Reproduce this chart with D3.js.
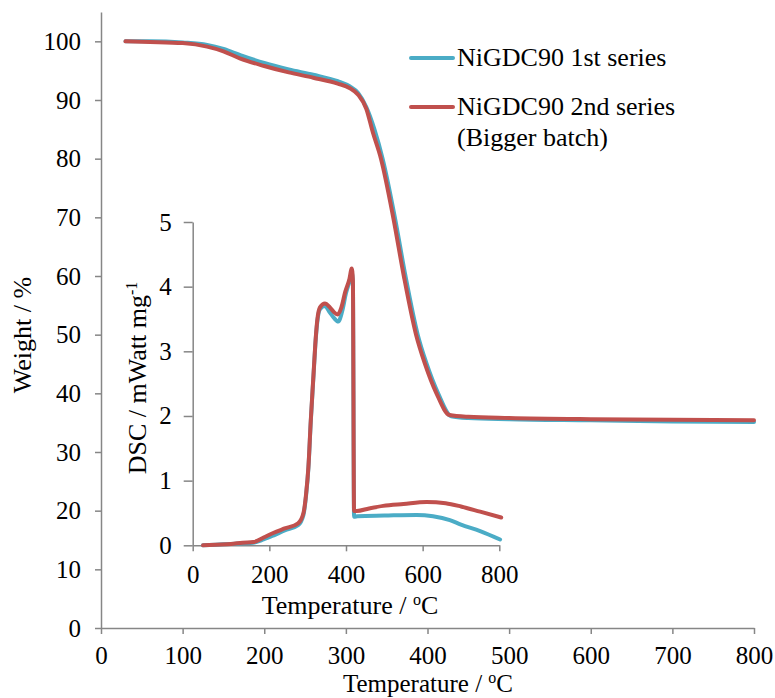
<!DOCTYPE html>
<html>
<head>
<meta charset="utf-8">
<script src="https://cdn.jsdelivr.net/npm/d3@7"></script>
<style>
  body { margin: 0; background: #fff; }
  svg text { font-family: "Liberation Serif", "Times New Roman", Times, "DejaVu Serif", serif; fill: #000; }
</style>
</head>
<body>
<div id="chart"></div>
<script>
/* TGA (main) + DSC (inset) for two NiGDC90 batches */

const serifFont = '"Liberation Serif", "Times New Roman", Times, "DejaVu Serif", serif';

const seriesNames = ['NiGDC90 1st series', 'NiGDC90 2nd series'];
const seriesColors = ['#4bacc6', '#c0504d'];

// TGA weight curves
const tgaTempBlue = [30, 60, 100, 130, 150, 170, 200, 230, 260, 290, 305, 315, 325, 335, 345, 360, 373, 388, 399, 413, 429, 450, 500, 600, 700, 800];
const tgaWeightBlue = [100, 100, 99.8, 99.4, 98.7, 97.7, 96.3, 95.2, 94.3, 93.2, 92.3, 91.2, 88.8, 85, 80, 70, 60, 50, 45, 40, 36.1, 35.8, 35.6, 35.4, 35.2, 35.1];
const tgaTempRed = [30, 60, 100, 130, 150, 170, 200, 230, 260, 290, 305, 315, 325, 333, 343, 358, 371, 386, 397, 411, 427, 450, 500, 600, 700, 800];
const tgaWeightRed = [100, 99.9, 99.7, 99.1, 98.3, 97.1, 95.8, 94.7, 93.8, 92.8, 92.0, 90.9, 88.5, 84.5, 80, 70, 60, 50, 45, 40, 36.3, 36.0, 35.8, 35.6, 35.5, 35.4];

// DSC inset curves
const dscTempBlue = [27, 60, 100, 130, 158, 185, 210, 240, 275, 289, 296, 302, 308, 315, 320, 325, 332, 345, 358, 368, 380, 390, 400, 409, 415, 418, 421, 430, 500, 584, 627, 671, 700, 750, 802];
const dscValueBlue = [0, 0.01, 0.02, 0.03, 0.04, 0.09, 0.15, 0.23, 0.31, 0.47, 0.78, 1.2, 1.9, 2.6, 3.1, 3.45, 3.65, 3.70, 3.6, 3.52, 3.46, 3.62, 3.9, 4.08, 4.22, 4.05, 0.44, 0.45, 0.46, 0.47, 0.45, 0.39, 0.32, 0.22, 0.09];
const dscTempRed = [27, 60, 100, 130, 158, 185, 210, 240, 275, 289, 296, 302, 308, 315, 320, 325, 332, 345, 358, 368, 378, 388, 398, 409, 415, 418, 421, 428, 460, 497, 550, 610, 660, 700, 750, 805];
const dscValueRed = [0, 0.01, 0.02, 0.04, 0.05, 0.12, 0.19, 0.26, 0.34, 0.5, 0.8, 1.22, 1.92, 2.62, 3.12, 3.48, 3.68, 3.74, 3.68, 3.61, 3.57, 3.68, 3.92, 4.12, 4.28, 4.1, 0.53, 0.53, 0.57, 0.61, 0.64, 0.67, 0.65, 0.6, 0.52, 0.43];

const mainXTicks = [0, 100, 200, 300, 400, 500, 600, 700, 800];
const mainYTicks = [0, 10, 20, 30, 40, 50, 60, 70, 80, 90, 100];
const insetXTicks = [0, 200, 400, 600, 800];
const insetYTicks = [0, 1, 2, 3, 4, 5];

const width = 775, height = 698;
const axisColor = '#868686';
const tickFont = 25, titleFont = 26;

const svg = d3.select('#chart').append('svg')
    .attr('width', width)
    .attr('height', height)
    .attr('font-family', serifFont);

// Main scales
const x = d3.scaleLinear().domain([0, 800]).range([101, 754]);
const y = d3.scaleLinear().domain([0, 105]).range([628, 12]);

// Inset scales
const xi = d3.scaleLinear().domain([0, 800]).range([192.7, 499.3]);
const yi = d3.scaleLinear().domain([0, 5]).range([545.3, 222]);

function styleAxis(g) {
    g.attr('font-family', serifFont).attr('font-size', tickFont);
    g.select('.domain').attr('stroke', axisColor).attr('stroke-width', 1.5);
    g.selectAll('.tick line').attr('stroke', axisColor).attr('stroke-width', 1.5);
    g.selectAll('.tick text').attr('fill', '#000');
}

// Main axes
svg.append('g')
    .attr('transform', `translate(0,${y(0)})`)
    .call(d3.axisBottom(x).tickValues(mainXTicks).tickFormat(d3.format('d'))
        .tickSize(6).tickSizeOuter(0).tickPadding(12))
    .call(styleAxis);

svg.append('g')
    .attr('transform', `translate(${x(0)},0)`)
    .call(d3.axisLeft(y).tickValues(mainYTicks).tickFormat(d3.format('d'))
        .tickSize(6).tickSizeOuter(0).tickPadding(14))
    .call(styleAxis);

// Inset axes
svg.append('g')
    .attr('transform', `translate(0,${yi(0)})`)
    .call(d3.axisBottom(xi).tickValues(insetXTicks).tickFormat(d3.format('d'))
        .tickSize(6).tickSizeOuter(0).tickPadding(14))
    .call(styleAxis);

svg.append('g')
    .attr('transform', `translate(${xi(0)},0)`)
    .call(d3.axisLeft(yi).tickValues(insetYTicks).tickFormat(d3.format('d'))
        .tickSize(9).tickSizeOuter(0).tickPadding(12))
    .call(styleAxis);

// Curves
const mainLine = d3.line().curve(d3.curveMonotoneX)
    .x(d => x(d[0])).y(d => y(d[1]));
const insetLine = d3.line().curve(d3.curveMonotoneX)
    .x(d => xi(d[0])).y(d => yi(d[1]));

const dscSeries = [
    d3.zip(dscTempBlue, dscValueBlue),
    d3.zip(dscTempRed, dscValueRed)
];
const tgaSeries = [
    d3.zip(tgaTempBlue, tgaWeightBlue),
    d3.zip(tgaTempRed, tgaWeightRed)
];

dscSeries.forEach((pts, i) => {
    svg.append('path')
        .attr('d', insetLine(pts))
        .attr('fill', 'none')
        .attr('stroke', seriesColors[i])
        .attr('stroke-width', 4)
        .attr('stroke-linejoin', 'round')
        .attr('stroke-linecap', 'round');
});

tgaSeries.forEach((pts, i) => {
    svg.append('path')
        .attr('d', mainLine(pts))
        .attr('fill', 'none')
        .attr('stroke', seriesColors[i])
        .attr('stroke-width', 4)
        .attr('stroke-linejoin', 'round')
        .attr('stroke-linecap', 'round');
});

// Axis titles
function tempTitle(cx, cy, size) {
    const t = svg.append('text')
        .attr('x', cx).attr('y', cy)
        .attr('text-anchor', 'middle')
        .attr('font-size', size);
    t.append('tspan').text('Temperature / ');
    t.append('tspan').attr('dy', -9).attr('font-size', 16).text('o');
    t.append('tspan').attr('dy', 9).text('C');
}
tempTitle(428, 692, 25);
tempTitle(350, 614, titleFont);

svg.append('text')
    .attr('transform', 'translate(31,335) rotate(-90)')
    .attr('text-anchor', 'middle')
    .attr('font-size', titleFont)
    .text('Weight / %');

const insetYTitle = svg.append('text')
    .attr('transform', 'translate(146,378) rotate(-90)')
    .attr('text-anchor', 'middle')
    .attr('font-size', titleFont);
insetYTitle.append('tspan').text('DSC / mWatt mg');
insetYTitle.append('tspan').attr('dy', -9).attr('font-size', 16).text('-1');

// Legend
const legendRows = [
    { lines: [seriesNames[0]], y: 58 },
    { lines: [seriesNames[1], '(Bigger batch)'], y: 107 }
];
legendRows.forEach((row, i) => {
    svg.append('line')
        .attr('x1', 411).attr('x2', 453)
        .attr('y1', row.y).attr('y2', row.y)
        .attr('stroke', seriesColors[i])
        .attr('stroke-width', 4)
        .attr('stroke-linecap', 'round');
    row.lines.forEach((t, j) => {
        svg.append('text')
            .attr('x', 457).attr('y', row.y + 8 + j * 31)
            .attr('font-size', titleFont)
            .text(t);
    });
});
</script>
</body>
</html>
